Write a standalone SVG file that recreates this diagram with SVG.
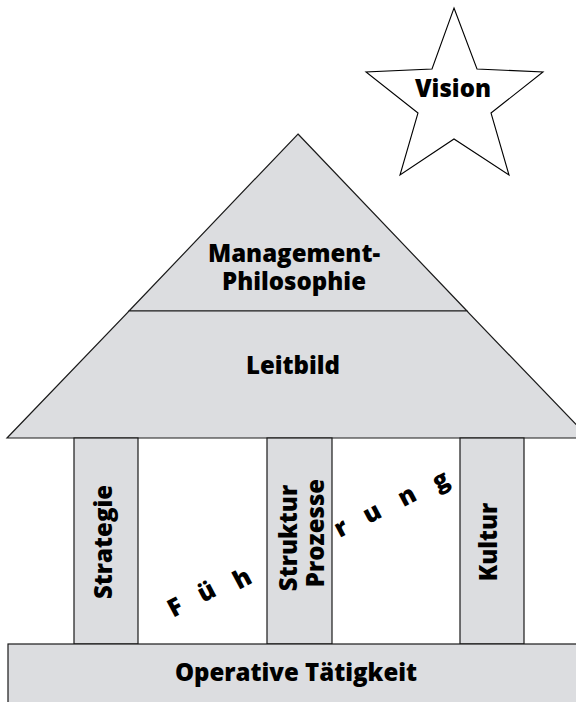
<svg xmlns="http://www.w3.org/2000/svg" width="576" height="702" viewBox="0 0 576 702">
  <style>
    .shape { fill: #dcdde0; stroke: #1a1a1a; stroke-width: 1.2; }
    .label { font-family: "Open Sans", "Liberation Sans", sans-serif; font-weight: 800; font-size: 24px; fill: #000; text-anchor: middle; }
    .letter { font-family: "Open Sans", "Liberation Sans", sans-serif; font-weight: 800; font-size: 25px; fill: #000; text-anchor: middle; }
  </style>

  <rect width="576" height="702" fill="#ffffff"/>

  <!-- Vision star -->
  <g id="vision">
    <polygon points="454,8 477,69 543,72 491,113 509,175 454,139 400,175 418,113 366,72 432,69"
             fill="#ffffff" stroke="#000" stroke-width="1.1" stroke-linejoin="miter"/>
    <text class="label" x="453" y="97">Vision</text>
  </g>

  <!-- Roof: management philosophy (top) and mission statement (lower band) -->
  <g id="philosophie">
    <polygon class="shape" points="298,134 467,311 129,311"/>
    <text class="label" x="294" y="262">Management-</text>
    <text class="label" x="294" y="290">Philosophie</text>
  </g>
  <g id="leitbild">
    <polygon class="shape" points="129,311 467,311 589,438 7,438"/>
    <text class="label" x="293" y="374">Leitbild</text>
  </g>

  <!-- Pillars -->
  <g id="strategie">
    <rect class="shape" x="74" y="438" width="64" height="206"/>
    <text class="label" transform="translate(112,542) rotate(-90)">Strategie</text>
  </g>
  <g id="struktur-prozesse">
    <rect class="shape" x="267" y="438" width="65" height="206"/>
    <text class="label" transform="translate(297,538) rotate(-90)">Struktur</text>
    <text class="label" transform="translate(324,533) rotate(-90)">Prozesse</text>
  </g>
  <g id="kultur">
    <rect class="shape" x="460" y="438" width="64" height="206"/>
    <text class="label" transform="translate(497,542) rotate(-90)">Kultur</text>
  </g>

  <!-- Führung, spread diagonally between the pillars -->
  <g id="fuehrung">
    <text class="letter" transform="translate(175,607) rotate(-28)" y="9">F</text>
    <text class="letter" transform="translate(207,593) rotate(-28)" y="7">ü</text>
    <text class="letter" transform="translate(242,578) rotate(-28)" y="9">h</text>
    <text class="letter" transform="translate(342,530) rotate(-28)" y="6">r</text>
    <text class="letter" transform="translate(373,515) rotate(-28)" y="6">u</text>
    <text class="letter" transform="translate(408,498) rotate(-28)" y="6">n</text>
    <text class="letter" transform="translate(443,485) rotate(-28)" y="3">g</text>
  </g>

  <!-- Foundation -->
  <g id="operative-taetigkeit">
    <rect class="shape" x="8" y="644" width="580" height="70"/>
    <text class="label" x="296" y="681">Operative Tätigkeit</text>
  </g>
</svg>
